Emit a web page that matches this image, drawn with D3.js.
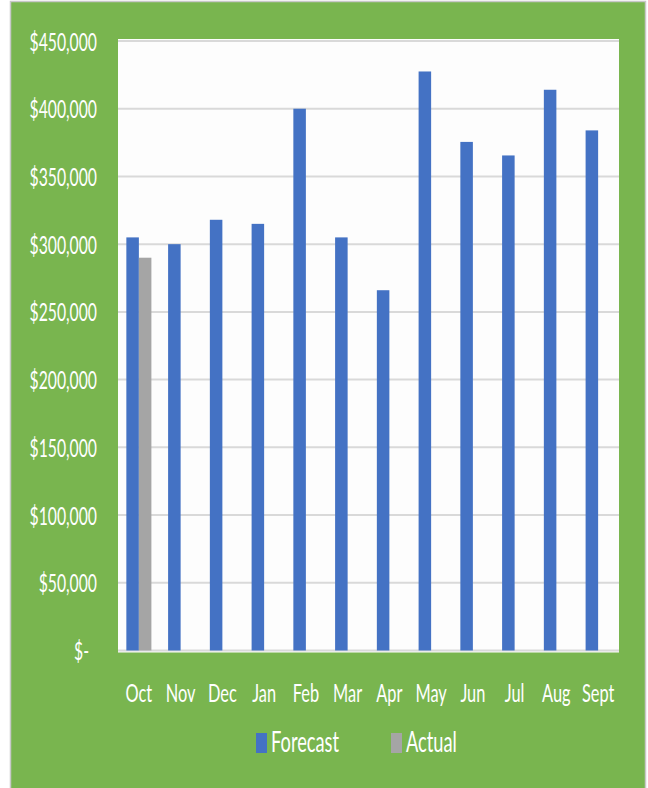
<!DOCTYPE html>
<html>
<head>
<meta charset="utf-8">
<script src="https://cdn.jsdelivr.net/npm/d3@7"></script>
<style>
  body { margin: 0; background: #fff; }
  text { font-family: Lato, "Open Sans", sans-serif; fill: #fff; }
</style>
</head>
<body>
<div id="chart"></div>
<script>
// months along the bottom
var months = ["Oct", "Nov", "Dec", "Jan", "Feb", "Mar", "Apr", "May", "Jun", "Jul", "Aug", "Sept"];
// forecast per month
var forecast = [305000, 300000, 318000, 315000, 400000, 305000, 266000, 427500, 375500, 365500, 414000, 384000];
// actual only known for Oct so far
var actual = [290000, null, null, null, null, null, null, null, null, null, null, null];
var yTicks = [0, 50000, 100000, 150000, 200000, 250000, 300000, 350000, 400000, 450000];
var yTickLabels = ["$-", "$50,000", "$100,000", "$150,000", "$200,000", "$250,000", "$300,000", "$350,000", "$400,000", "$450,000"];
var seriesNames = ["Forecast", "Actual"];

var width = 648,
    height = 788,
    plot = {left: 118, right: 619, top: 40, bottom: 650.5},
    colors = {forecast: "#4472C4", actual: "#A5A5A5", green: "#79B54F", grid: "#D9D9D9"},
    squeeze = 0.63;

var svg = d3.select("#chart")
    .append("svg")
    .attr("width", width)
    .attr("height", height);

// green chart frame
svg.append("rect")
    .attr("x", 10.5).attr("y", 1.5)
    .attr("width", 635).attr("height", 790)
    .style("fill", colors.green)
    .style("stroke", "#C8C8C8")
    .style("stroke-width", 1.5);

// white plot area
svg.append("rect")
    .attr("x", plot.left).attr("y", plot.top - 1)
    .attr("width", plot.right - plot.left).attr("height", plot.bottom - plot.top + 3)
    .style("fill", "#fdfdfd");

var rows = months.map((m, i) => ({month: m, forecast: forecast[i], actual: actual[i]}));

var xScale0 = d3.scaleBand().domain(months).range([plot.left, plot.right]).paddingInner(0.4).paddingOuter(0.2);
var xScale1 = d3.scaleBand().domain(["forecast", "actual"]).range([0, xScale0.bandwidth()]);
var yScale = d3.scaleLinear().domain([0, 450000]).range([plot.bottom, plot.top + 1]);

// gridlines
svg.append("g")
    .selectAll("line")
    .data(yTicks)
    .enter().append("line")
    .attr("x1", plot.left).attr("x2", plot.right)
    .attr("y1", d => yScale(d)).attr("y2", d => yScale(d))
    .style("stroke", colors.grid)
    .style("stroke-width", 2);

var group = svg.selectAll(".month")
    .data(rows)
    .enter().append("g")
    .attr("class", "month")
    .attr("transform", d => `translate(${xScale0(d.month)},0)`);

group.append("rect")
    .attr("class", "bar forecast")
    .style("fill", colors.forecast)
    .attr("x", xScale1("forecast"))
    .attr("y", d => yScale(d.forecast))
    .attr("width", xScale1.bandwidth())
    .attr("height", d => yScale(0) - yScale(d.forecast));

group.filter(d => d.actual != null).append("rect")
    .attr("class", "bar actual")
    .style("fill", colors.actual)
    .attr("x", xScale1("actual"))
    .attr("y", d => yScale(d.actual))
    .attr("width", xScale1.bandwidth())
    .attr("height", d => yScale(0) - yScale(d.actual));

// Y axis
var yAxis = d3.axisLeft(yScale)
    .tickValues(yTicks)
    .tickFormat((d, i) => yTickLabels[i])
    .tickSize(0)
    .tickPadding(21);

var yG = svg.append("g")
    .attr("transform", `translate(${plot.left},0)`)
    .call(yAxis);
yG.select(".domain").remove();
yG.selectAll("text")
    .style("font-size", "25px")
    .style("fill", "#fff")
    .attr("dy", "0.36em")
    .attr("x", d => d === 0 ? -29 : -21);

// X axis
var xAxis = d3.axisBottom(xScale0).tickSize(0).tickPadding(33);
var xG = svg.append("g")
    .attr("transform", `translate(0,${plot.bottom})`)
    .call(xAxis);
xG.select(".domain").remove();
xG.selectAll("text")
    .style("font-size", "26px")
    .style("fill", "#fff");

// legend
var legendX = [256, 391];
var legend = svg.selectAll(".legend")
    .data(seriesNames)
    .enter().append("g")
    .attr("class", "legend")
    .attr("transform", (d, i) => `translate(${legendX[i]},733)`);
legend.append("rect")
    .attr("width", 11).attr("height", 20)
    .style("fill", (d, i) => i === 0 ? colors.forecast : colors.actual);
legend.append("text")
    .attr("x", 15).attr("y", 19)
    .style("font-size", "29px")
    .text(d => d);

// the reference text is narrow, squeeze every label horizontally around its anchor
svg.selectAll("text").each(function() {
    var x = +this.getAttribute("x") || 0;
    this.setAttribute("transform", `translate(${x},0) scale(${squeeze},1) translate(${-x},0)`);
});
</script>
</body>
</html>
